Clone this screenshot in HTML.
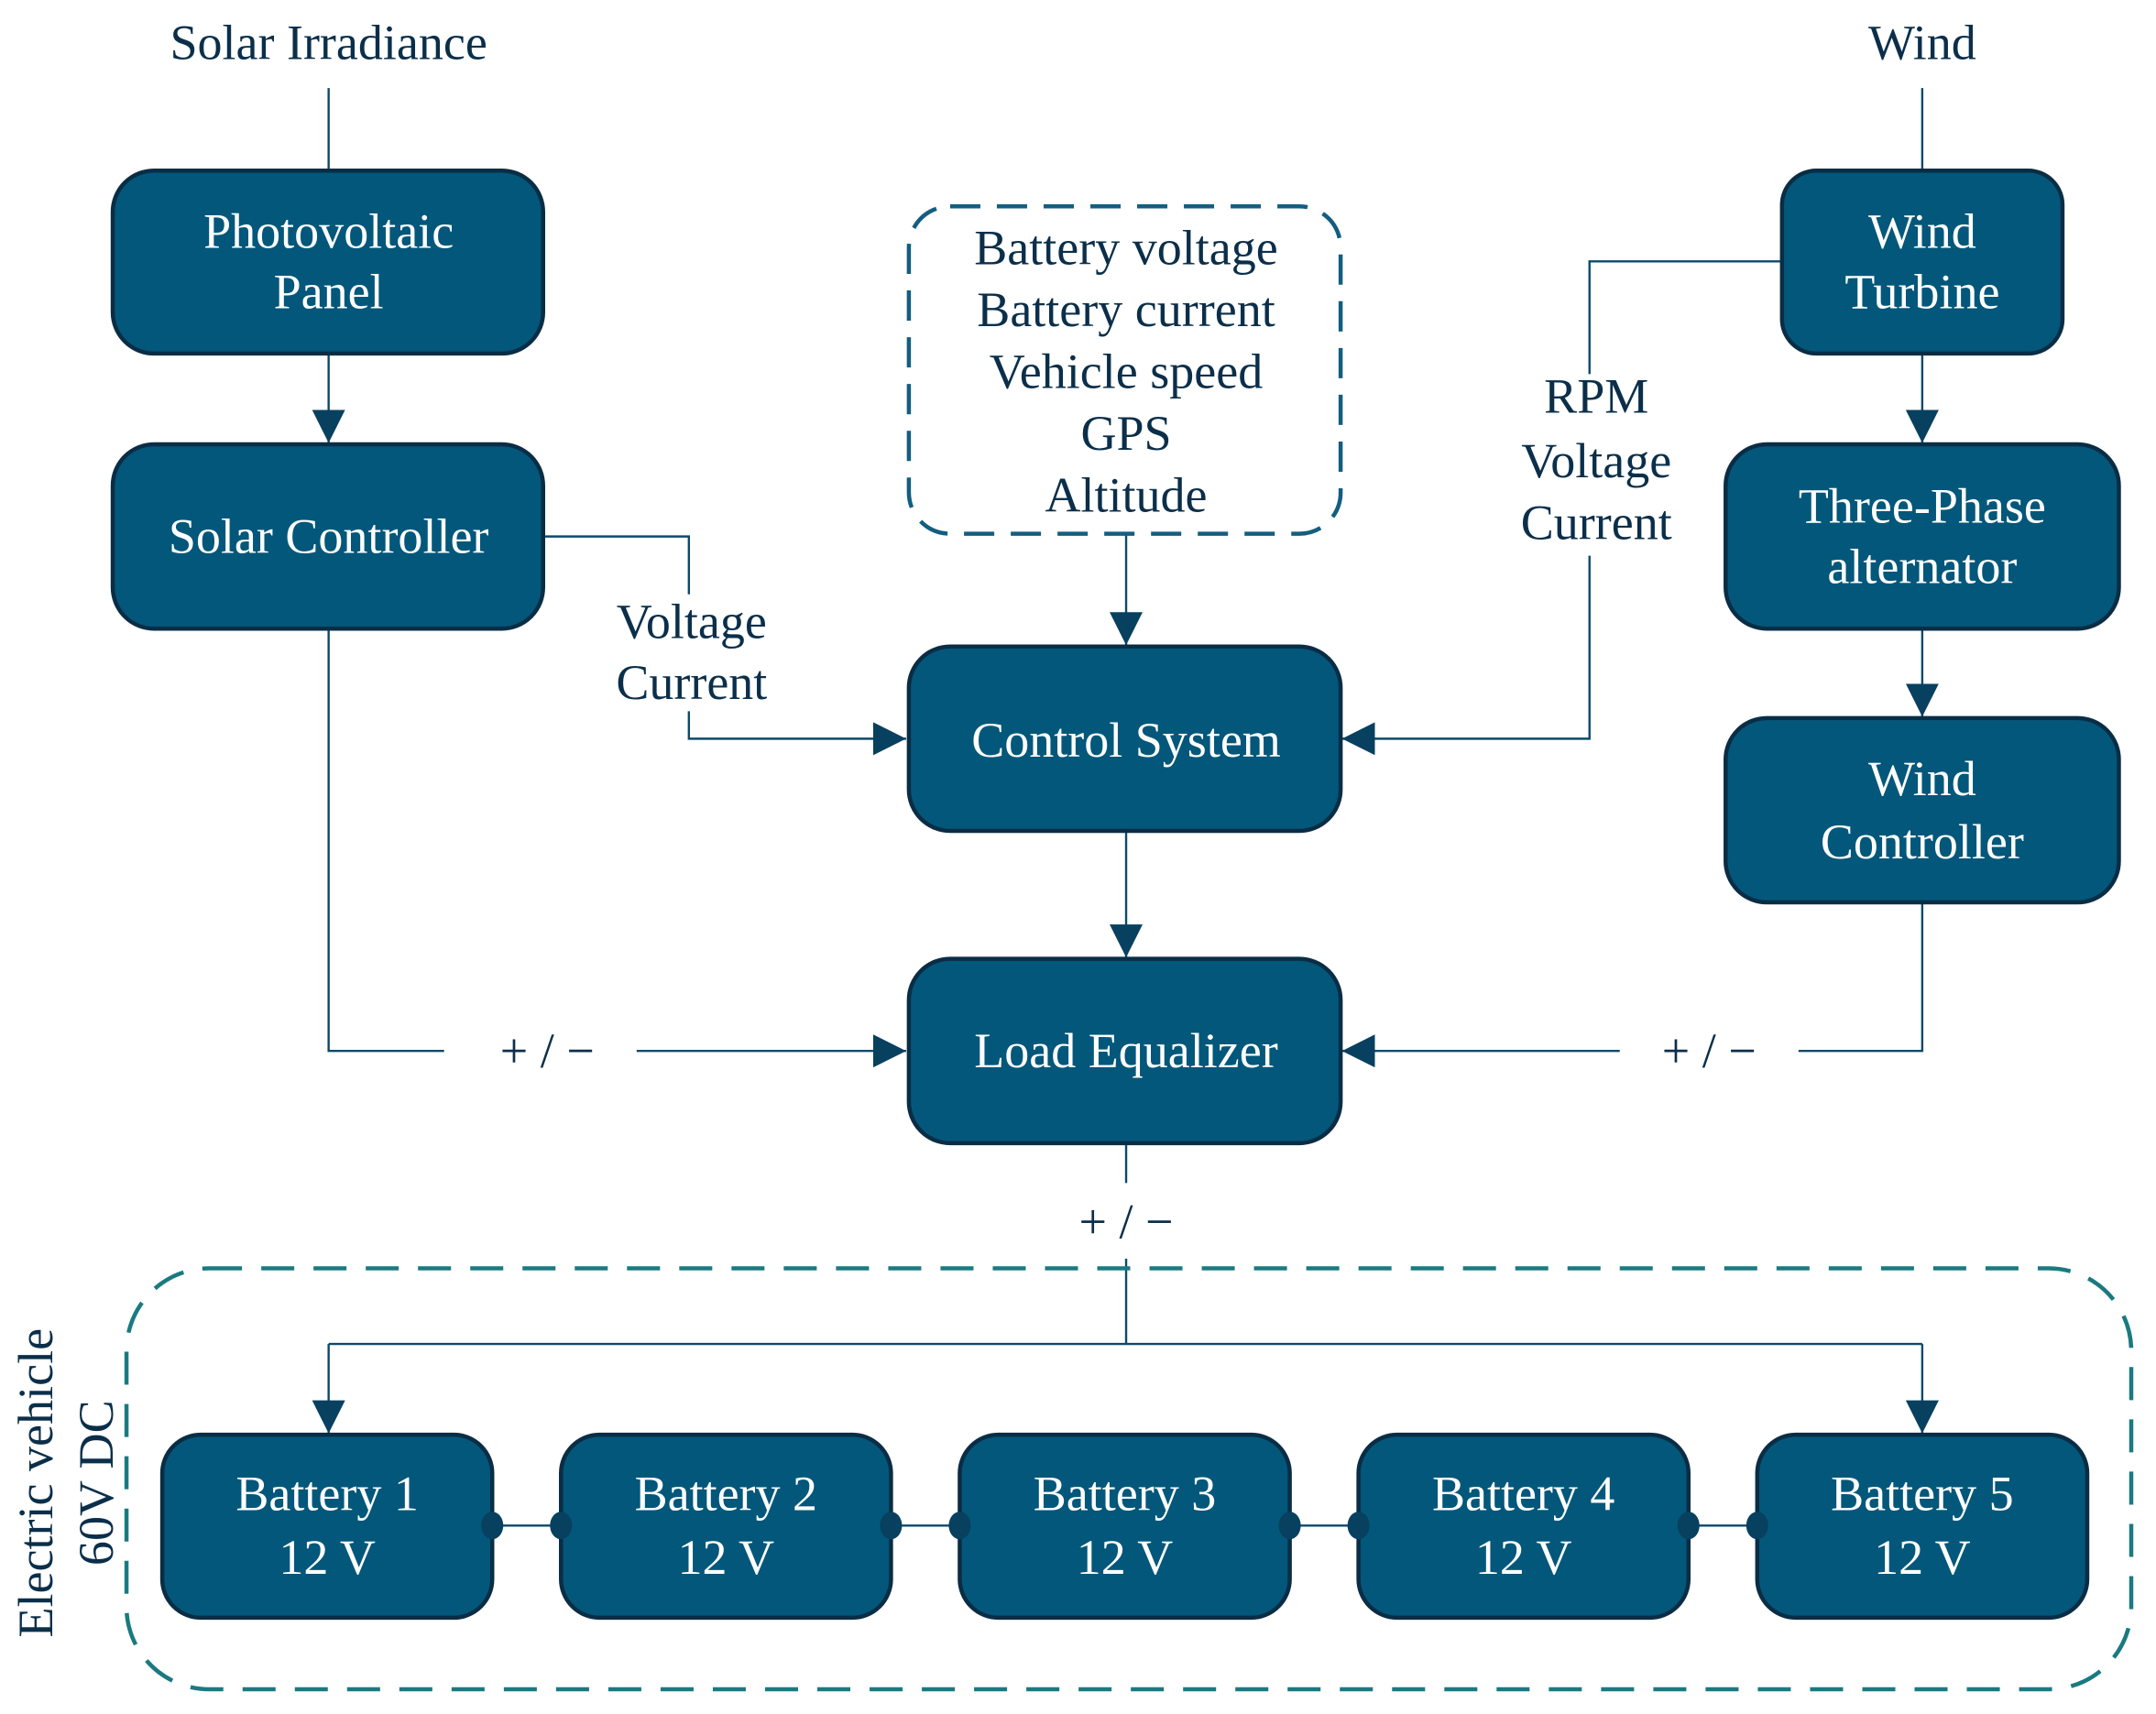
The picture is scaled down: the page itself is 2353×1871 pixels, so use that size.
<!DOCTYPE html>
<html><head><meta charset="utf-8"><style>
html,body{margin:0;padding:0;background:#fff;}
svg{display:block;}
text{font-family:"Liberation Serif",serif;font-size:36px;text-anchor:middle;}
.w{fill:#fff;}
.d{fill:#0b2f4a;}
.b{fill:#03577a;stroke:#0a2d45;stroke-width:3;}
.l{stroke:#0b4a6b;stroke-width:1.6;fill:none;}
</style></head><body>
<svg width="2353" height="1871" viewBox="0 0 1568 1246" preserveAspectRatio="none" xmlns="http://www.w3.org/2000/svg">
<defs>
<marker id="a" viewBox="0 0 10 10" refX="10" refY="5" markerWidth="24" markerHeight="24" markerUnits="userSpaceOnUse" orient="auto"><path d="M0,0 L10,5 L0,10 z" fill="#08405f"/></marker>
</defs>
<text class="d" x="239" y="43">Solar Irradiance</text>
<text class="d" x="1398" y="43">Wind</text>
<path class="l" d="M239,64 V124"/>
<path class="l" d="M239,257 V322" marker-end="url(#a)"/>
<path class="l" d="M395,390 H501 V432"/>
<path class="l" d="M501,517 V537 H659" marker-end="url(#a)"/>
<text class="d" x="503" y="464">Voltage</text>
<text class="d" x="503" y="508">Current</text>
<path class="l" d="M819,388 V469" marker-end="url(#a)"/>
<path class="l" d="M819,604 V696" marker-end="url(#a)"/>
<path class="l" d="M239,457 V764 H323"/>
<path class="l" d="M463,764 H659" marker-end="url(#a)"/>
<text class="d" x="398" y="776">+ / −</text>
<path class="l" d="M1398,64 V124"/>
<path class="l" d="M1296,190 H1156 V272"/>
<path class="l" d="M1156,404 V537 H976" marker-end="url(#a)"/>
<text class="d" x="1161" y="300">RPM</text>
<text class="d" x="1161" y="347">Voltage</text>
<text class="d" x="1161" y="392">Current</text>
<path class="l" d="M1398,257 V322" marker-end="url(#a)"/>
<path class="l" d="M1398,457 V521" marker-end="url(#a)"/>
<path class="l" d="M1398,656 V764 H1308"/>
<path class="l" d="M1178,764 H976" marker-end="url(#a)"/>
<text class="d" x="1243" y="776">+ / −</text>
<path class="l" d="M819,831 V860"/>
<text class="d" x="819" y="900">+ / −</text>
<path class="l" d="M819,915 V977 M239,977 H1398"/>
<path class="l" d="M239,977 V1042" marker-end="url(#a)"/>
<path class="l" d="M1398,977 V1042" marker-end="url(#a)"/>
<rect x="92" y="922" width="1458" height="306" rx="60" fill="none" stroke="#1a7a80" stroke-width="3" stroke-dasharray="24,14"/>
<text class="d" transform="translate(38,1078) rotate(-90)">Electric vehicle</text>
<text class="d" transform="translate(82,1078) rotate(-90)">60V DC</text>
<rect x="661" y="150" width="314" height="238" rx="30" fill="none" stroke="#135e80" stroke-width="3" stroke-dasharray="22,12"/>
<text class="d" x="819" y="192">Battery voltage</text>
<text class="d" x="819" y="237">Battery current</text>
<text class="d" x="819" y="282">Vehicle speed</text>
<text class="d" x="819" y="327">GPS</text>
<text class="d" x="819" y="372">Altitude</text>
<rect class="b" x="82" y="124" width="313" height="133" rx="30"/>
<text class="w" x="239" y="180">Photovoltaic</text><text class="w" x="239" y="224">Panel</text>
<rect class="b" x="82" y="323" width="313" height="134" rx="30"/>
<text class="w" x="239" y="402">Solar Controller</text>
<rect class="b" x="661" y="470" width="314" height="134" rx="30"/>
<text class="w" x="819" y="550">Control System</text>
<rect class="b" x="661" y="697" width="314" height="134" rx="30"/>
<text class="w" x="819" y="776">Load Equalizer</text>
<rect class="b" x="1296" y="124" width="204" height="133" rx="25"/>
<text class="w" x="1398" y="180">Wind</text><text class="w" x="1398" y="224">Turbine</text>
<rect class="b" x="1255" y="323" width="286" height="134" rx="30"/>
<text class="w" x="1398" y="380">Three-Phase</text><text class="w" x="1398" y="424">alternator</text>
<rect class="b" x="1255" y="522" width="286" height="134" rx="30"/>
<text class="w" x="1398" y="578">Wind</text><text class="w" x="1398" y="624">Controller</text>
<path class="l" d="M358,1109 H408 M648,1109 H698 M938,1109 H988 M1228,1109 H1278"/>
<rect class="b" x="118" y="1043" width="240" height="133" rx="28"/>
<rect class="b" x="408" y="1043" width="240" height="133" rx="28"/>
<rect class="b" x="698" y="1043" width="240" height="133" rx="28"/>
<rect class="b" x="988" y="1043" width="240" height="133" rx="28"/>
<rect class="b" x="1278" y="1043" width="240" height="133" rx="28"/>
<g fill="#08405f">
<ellipse cx="358" cy="1109" rx="8" ry="10"/><ellipse cx="408" cy="1109" rx="8" ry="10"/>
<ellipse cx="648" cy="1109" rx="8" ry="10"/><ellipse cx="698" cy="1109" rx="8" ry="10"/>
<ellipse cx="938" cy="1109" rx="8" ry="10"/><ellipse cx="988" cy="1109" rx="8" ry="10"/>
<ellipse cx="1228" cy="1109" rx="8" ry="10"/><ellipse cx="1278" cy="1109" rx="8" ry="10"/>
</g>
<text class="w" x="238" y="1098">Battery 1</text><text class="w" x="238" y="1144">12 V</text>
<text class="w" x="528" y="1098">Battery 2</text><text class="w" x="528" y="1144">12 V</text>
<text class="w" x="818" y="1098">Battery 3</text><text class="w" x="818" y="1144">12 V</text>
<text class="w" x="1108" y="1098">Battery 4</text><text class="w" x="1108" y="1144">12 V</text>
<text class="w" x="1398" y="1098">Battery 5</text><text class="w" x="1398" y="1144">12 V</text>
</svg>
</body></html>
